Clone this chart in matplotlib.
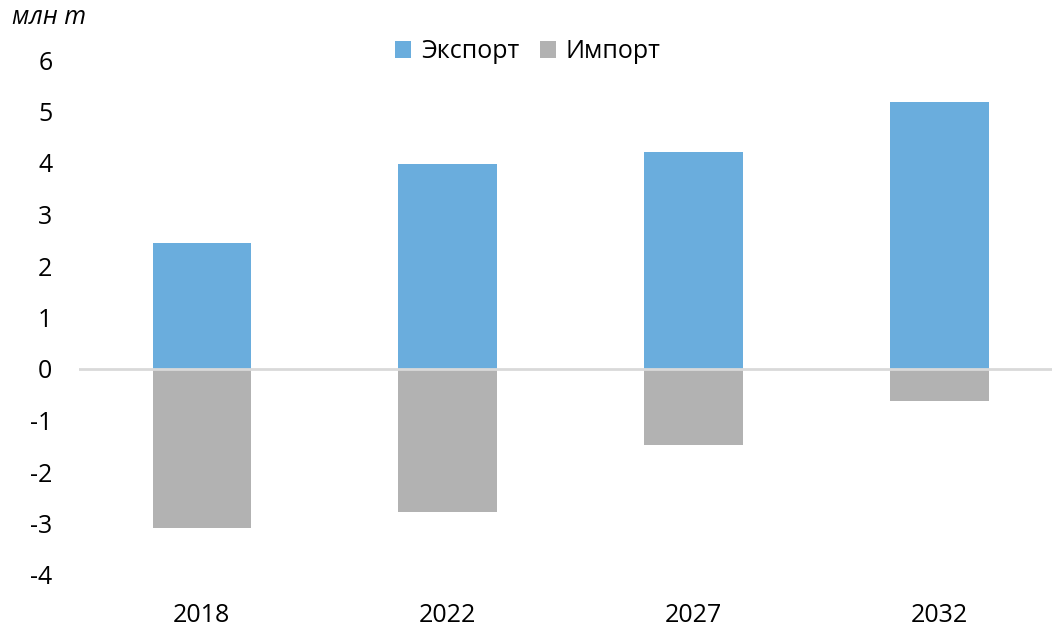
import matplotlib
matplotlib.use("Agg")
import matplotlib.pyplot as plt
import numpy as np

years = ["2018", "2022", "2027", "2032"]
export = [2.45, 3.98, 4.21, 5.18]
imports = [-3.08, -2.78, -1.48, -0.62]
yticks = [6, 5, 4, 3, 2, 1, 0, -1, -2, -3, -4]

plt.rcParams['font.family'] = ['Open Sans', 'DejaVu Sans']

W, H = 1052, 629
fig = plt.figure(figsize=(W/100, H/100), dpi=100)
ax = fig.add_axes([78.8/W, (H-575)/H, 983.6/W, 515/H])

x = np.arange(len(years))
blue = '#6aaddd'
gray = '#b2b2b2'
ax.bar(x, export, width=0.4, color=blue, label='Экспорт', zorder=2)
ax.bar(x, imports, width=0.4, color=gray, label='Импорт', zorder=2)
ax.axhline(0, color='#d9d9d9', lw=2, zorder=3)

ax.set_xlim(-0.5, 3.5)
ax.set_ylim(-4, 6)
ax.set_yticks(yticks)
ax.set_yticklabels([str(v) for v in yticks])
ax.set_xticks(x)
ax.set_xticklabels(years)
for s in ax.spines.values():
    s.set_visible(False)
ax.tick_params(axis='both', length=0, labelsize=18, colors='#000000')
ax.tick_params(axis='y', pad=19)
ax.tick_params(axis='x', pad=20)

fig.text(12/W, 1-18/H, 'млн т', fontsize=18, style='italic', va='center', ha='left')

leg = ax.legend(loc='center', bbox_to_anchor=(528/W, 1-52/H), bbox_transform=fig.transFigure,
                ncol=2, frameon=False, fontsize=18, handlelength=0.65, handleheight=0.65,
                handletextpad=0.4, columnspacing=0.8)

fig.savefig('out.png', dpi=100)
